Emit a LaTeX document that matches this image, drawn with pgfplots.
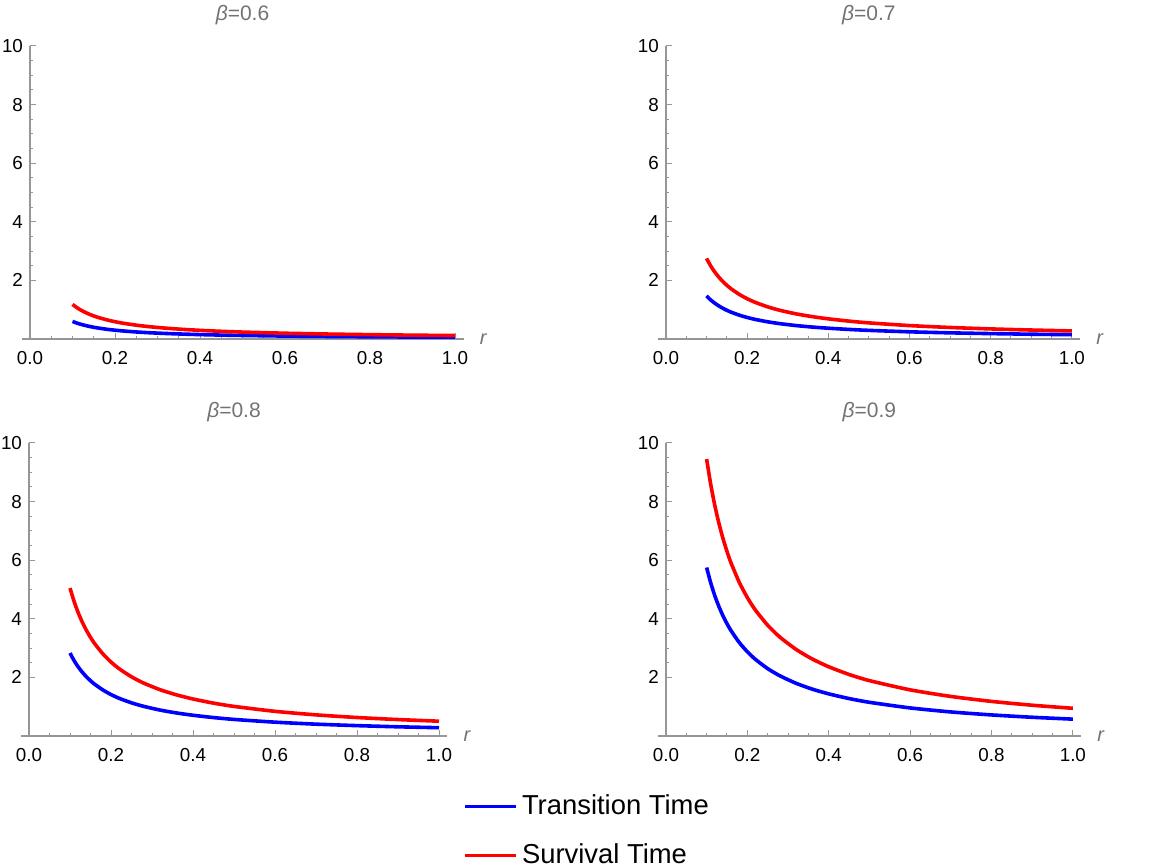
\documentclass[border=0pt]{standalone}
\usepackage{fontspec}
\setmainfont{Liberation Sans}
\usepackage{pgfplots}
\usepackage{pgfplotstable}
\pgfplotsset{compat=1.18}
\definecolor{axgray}{RGB}{150,150,150}
\definecolor{labgray}{RGB}{115,115,115}

\pgfplotstableread{
r T S
0.10 0.600 1.180
0.11 0.545 1.073
0.12 0.500 0.983
0.13 0.462 0.908
0.14 0.429 0.843
0.15 0.400 0.787
0.16 0.375 0.738
0.18 0.333 0.656
0.20 0.300 0.590
0.22 0.273 0.536
0.25 0.240 0.472
0.28 0.214 0.421
0.32 0.188 0.369
0.36 0.167 0.328
0.40 0.150 0.295
0.45 0.133 0.262
0.50 0.120 0.236
0.60 0.100 0.197
0.70 0.086 0.169
0.80 0.075 0.148
0.90 0.067 0.131
1.00 0.060 0.118
}\tabA
\pgfplotstableread{
r T S
0.10 1.470 2.750
0.11 1.336 2.500
0.12 1.225 2.292
0.13 1.131 2.115
0.14 1.050 1.964
0.15 0.980 1.833
0.16 0.919 1.719
0.18 0.817 1.528
0.20 0.735 1.375
0.22 0.668 1.250
0.25 0.588 1.100
0.28 0.525 0.982
0.32 0.459 0.859
0.36 0.408 0.764
0.40 0.368 0.688
0.45 0.327 0.611
0.50 0.294 0.550
0.60 0.245 0.458
0.70 0.210 0.393
0.80 0.184 0.344
0.90 0.163 0.306
1.00 0.147 0.275
}\tabB
\pgfplotstableread{
r T S
0.10 2.830 5.050
0.11 2.573 4.591
0.12 2.358 4.208
0.13 2.177 3.885
0.14 2.021 3.607
0.15 1.887 3.367
0.16 1.769 3.156
0.18 1.572 2.806
0.20 1.415 2.525
0.22 1.286 2.295
0.25 1.132 2.020
0.28 1.011 1.804
0.32 0.884 1.578
0.36 0.786 1.403
0.40 0.708 1.263
0.45 0.629 1.122
0.50 0.566 1.010
0.60 0.472 0.842
0.70 0.404 0.721
0.80 0.354 0.631
0.90 0.314 0.561
1.00 0.283 0.505
}\tabC
\pgfplotstableread{
r T S
0.10 5.750 9.450
0.11 5.227 8.591
0.12 4.792 7.875
0.13 4.423 7.269
0.14 4.107 6.750
0.15 3.833 6.300
0.16 3.594 5.906
0.18 3.194 5.250
0.20 2.875 4.725
0.22 2.614 4.295
0.25 2.300 3.780
0.28 2.054 3.375
0.32 1.797 2.953
0.36 1.597 2.625
0.40 1.438 2.363
0.45 1.278 2.100
0.50 1.150 1.890
0.60 0.958 1.575
0.70 0.821 1.350
0.80 0.719 1.181
0.90 0.639 1.050
1.00 0.575 0.945
}\tabD

\pgfplotsset{mma/.style={
  scale only axis, axis lines=middle,
  axis line style={-, draw=axgray, line width=0.6pt},
  xmin=-0.02, xmax=1.02, ymin=0, ymax=10,
  xtick={0,0.2,0.4,0.6,0.8,1}, ytick={2,4,6,8,10},
  minor x tick num=3, minor y tick num=3,
  tick align=inside, major tick length=2.8pt, minor tick length=1.6pt,
  every tick/.style={draw=axgray, line width=0.5pt},
  hide obscured x ticks=false,
  /pgf/number format/assume math mode=true,
  xticklabel style={/pgf/number format/fixed, /pgf/number format/fixed zerofill, /pgf/number format/precision=1, yshift=-2.5pt},
  tick label style={font=\fontsize{9.4}{11}\selectfont, text=black},
  height=146.5pt,
  xlabel={\textit{r}},
  xlabel style={at={(axis description cs:1,0)}, anchor=west, inner sep=0pt, xshift=8pt, text=labgray, font=\fontsize{10}{12}\selectfont},
  every axis title shift=0pt,
  title style={at={(axis description cs:0.5,1)}, anchor=center, yshift=15.5pt, text=labgray, font=\fontsize{10.5}{12}\selectfont},
  every axis plot/.append style={line width=1.8pt, line join=round, line cap=butt, smooth, tension=0.4},
}}

\begin{document}
\begin{tikzpicture}
\useasboundingbox (0,0) rectangle (581.5pt,433.5pt);
\begin{axis}[mma, at={(10.75pt,264pt)}, anchor=south west, width=221pt, title={\textit{β}=0.6}]
\addplot[blue] table[x=r,y=T] {\tabA};
\addplot[red] table[x=r,y=S] {\tabA};
\end{axis}
\begin{axis}[mma, at={(328.9pt,264pt)}, anchor=south west, width=211.1pt, title={\textit{β}=0.7}]
\addplot[blue] table[x=r,y=T] {\tabB};
\addplot[red] table[x=r,y=S] {\tabB};
\end{axis}
\begin{axis}[mma, at={(10.4pt,65.5pt)}, anchor=south west, width=213.2pt, title={\textit{β}=0.8},
  legend style={at={(axis description cs:1.0371,-0.3242)}, anchor=west, draw=none, fill=none,
    font=\fontsize{13.7}{16}\selectfont, row sep=9pt, inner sep=0pt},
  legend cell align=left,
  legend image code/.code={\draw[#1] (0pt,0pt) -- (20pt,0pt); \path (0pt,0pt) -- (25.5pt,0pt);}]
\addplot[blue] table[x=r,y=T] {\tabC};
\addlegendentry{Transition Time}
\addplot[red] table[x=r,y=S] {\tabC};
\addlegendentry{Survival Time}
\end{axis}
\begin{axis}[mma, at={(328.9pt,65.5pt)}, anchor=south west, width=211.6pt, title={\textit{β}=0.9}]
\addplot[blue] table[x=r,y=T] {\tabD};
\addplot[red] table[x=r,y=S] {\tabD};
\end{axis}
\end{tikzpicture}
\end{document}
